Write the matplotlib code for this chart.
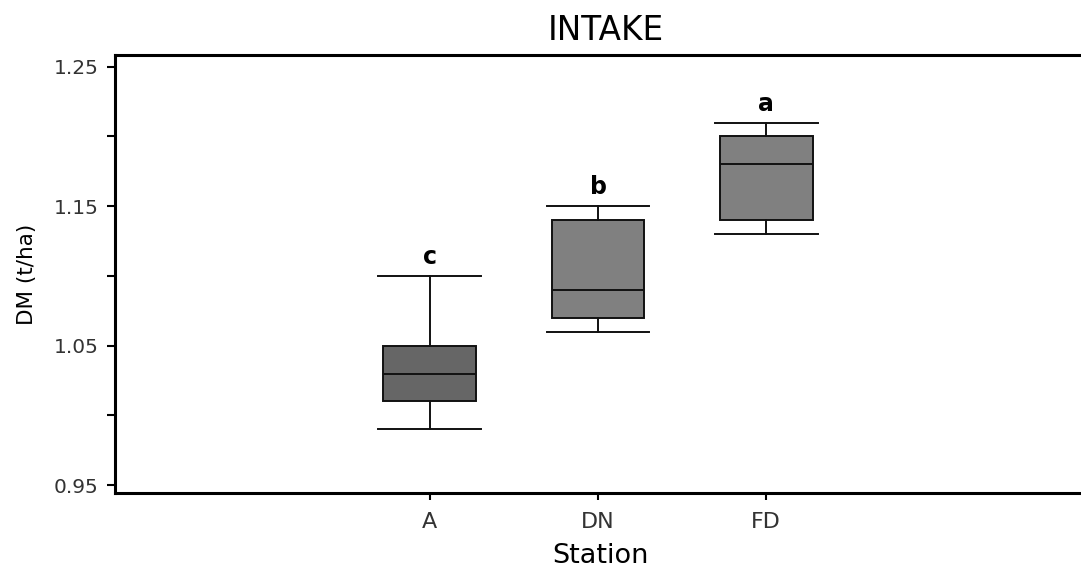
import matplotlib
matplotlib.use("Agg")
from matplotlib import pyplot as plt
from matplotlib.ticker import FixedLocator, FormatStrFormatter

# box statistics
stations = ["A", "DN", "FD"]
whislo = [0.99, 1.06, 1.13]
q1 = [1.01, 1.07, 1.14]
med = [1.03, 1.09, 1.18]
q3 = [1.05, 1.14, 1.20]
whishi = [1.10, 1.15, 1.21]
letters = ["c", "b", "a"]
fills = ["#666666", "#808080", "#808080"]

plt.rcParams['font.family'] = ['DejaVu Sans']

fig = plt.figure(figsize=(10.81, 5.70), dpi=100)
ax = fig.add_axes([0.1064, 0.135, 0.8936, 0.7685])

stats = []
for i in range(len(stations)):
    stats.append(dict(label=stations[i], whislo=whislo[i], q1=q1[i], med=med[i],
                      q3=q3[i], whishi=whishi[i], fliers=[]))

pos = list(range(1, len(stations) + 1))
bp = ax.bxp(stats, positions=pos, widths=0.55, capwidths=0.61, patch_artist=True,
            showfliers=False,
            boxprops=dict(linewidth=1.4, edgecolor="#111111"),
            medianprops=dict(color="#111111", linewidth=1.4),
            whiskerprops=dict(color="#111111", linewidth=1.4),
            capprops=dict(color="#111111", linewidth=1.4))
for patch, c in zip(bp["boxes"], fills):
    patch.set_facecolor(c)

# significance letters above the upper whiskers
for p, top, lab in zip(pos, whishi, letters):
    ax.annotate(lab, (p, top), xytext=(0, 5), textcoords="offset points",
                ha="center", va="bottom", fontsize=17, fontweight="bold")

ax.set_xlim(-0.87, 4.87)
ax.set_ylim(0.9443, 1.2584)
ax.yaxis.set_major_locator(FixedLocator([0.95, 1.05, 1.15, 1.25]))
ax.yaxis.set_minor_locator(FixedLocator([1.00, 1.10, 1.20]))
ax.yaxis.set_major_formatter(FormatStrFormatter("%.2f"))
ax.set_xticks(pos)
ax.set_xticklabels(stations)

ax.tick_params(axis="y", which="both", direction="out", length=6, width=1.5,
               labelsize=14.5, labelcolor="#333333", pad=6)
ax.tick_params(axis="x", direction="out", length=5, width=1.5,
               labelsize=16, labelcolor="#333333", pad=9)

for s in ["left", "bottom", "top"]:
    ax.spines[s].set_linewidth(2.2)
ax.spines["right"].set_visible(False)

ax.set_title("INTAKE", fontsize=23.5, x=0.508, pad=11)
ax.set_xlabel("Station", fontsize=19.5, labelpad=3)
ax.xaxis.set_label_coords(0.503, -0.115)
ax.set_ylabel("DM (t/ha)", fontsize=15.5, labelpad=12)

fig.savefig("out.png", dpi=100)
